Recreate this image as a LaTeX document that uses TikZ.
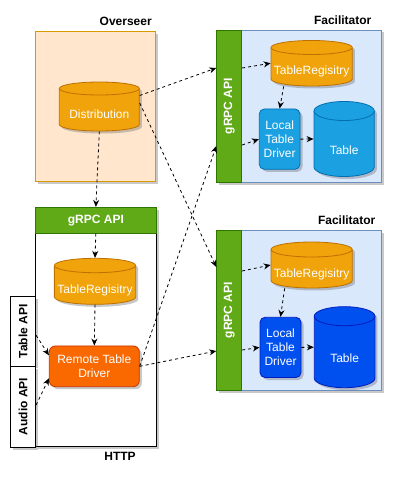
\documentclass[tikz,border=0pt]{standalone}
\usepackage{fontspec}
\setmainfont{Liberation Sans}
\usetikzlibrary{arrows.meta, shadows}

\definecolor{ovfill}{HTML}{FFE6CC}
\definecolor{ovline}{HTML}{D79B00}
\definecolor{orfill}{HTML}{F0A30A}
\definecolor{orline}{HTML}{BD7000}
\definecolor{grfill}{HTML}{60A917}
\definecolor{grline}{HTML}{2D7600}
\definecolor{fcfill}{HTML}{DAE8FC}
\definecolor{fcline}{HTML}{6C8EBF}
\definecolor{skyfill}{HTML}{1BA1E2}
\definecolor{skyline}{HTML}{006EAF}
\definecolor{cobfill}{HTML}{0050EF}
\definecolor{cobline}{HTML}{001DBC}
\definecolor{rtfill}{HTML}{FA6800}
\definecolor{rtline}{HTML}{C73500}

% cilindro: nome, cx, top, larghezza, altezza, ry, colori, testo
\newcommand{\drum}[8]{%
  \pgfmathsetmacro\drumrx{#4/2}%
  \path[#7, dropsh] ({#2-\drumrx},{#3+#6}) -- ({#2-\drumrx},{#3+#5-#6})
    arc[start angle=180, end angle=360, x radius=\drumrx pt, y radius=#6pt]
    -- ({#2+\drumrx},{#3+#6})
    arc[start angle=0, end angle=180, x radius=\drumrx pt, y radius=#6pt] -- cycle;
  \draw[#7] ({#2-\drumrx},{#3+#6})
    arc[start angle=180, end angle=360, x radius=\drumrx pt, y radius=#6pt];
  \node[minimum width=#4pt, minimum height=#5pt, inner sep=0pt] (#1) at (#2,{#3+#5/2}) {};
  \node[intext] at (#2,{#3+#5/2+1.2*#6}) {#8};
}

\begin{document}
\begin{tikzpicture}[x=1pt, y=-1pt, line width=0.8pt,
      every node/.style={font=\fontsize{12}{14}\selectfont},
      dropsh/.style={drop shadow={shadow xshift=2.5pt, shadow yshift=-2.5pt, opacity=0.3, fill=black!70}},
      panel/.style={draw, inner sep=0pt, dropsh},
      bar/.style={draw=grline, fill=grfill, inner sep=0pt},
      intext/.style={text=white, align=center, inner sep=0pt},
      barlbl/.style={text=white, font=\bfseries\fontsize{12}{14}\selectfont},
      title/.style={font=\bfseries\fontsize{12}{14}\selectfont},
      flow/.style={-{Stealth[length=7pt, width=6pt]}, dash pattern=on 3pt off 3pt, line width=0.8pt}]

  \useasboundingbox (0,0) rectangle (405,492);

  % Overseer
  \node[title] (overlbl) at (125.7,21.7) {Overseer};
  \node[panel, fill=ovfill, draw=ovline, minimum width=119.6pt, minimum height=150pt] (over) at (95.5,106.7) {};
  \drum{dist}{99.3}{82}{80}{49}{6.5}{fill=orfill, draw=orline}{Distribution}

  % Facilitator sopra
  \node[title] (faclblA) at (342.7,20.7) {Facilitator};
  \node[panel, fill=fcfill, draw=fcline, minimum width=164.3pt, minimum height=152pt] (facA) at (298.85,106) {};
  \node[bar, minimum width=25pt, minimum height=152pt] (grpcA) at (229.2,106) {};
  \node[barlbl, rotate=90] at (grpcA) {gRPC API};
  \drum{regA}{311.65}{40.5}{81.3}{45.5}{7}{fill=orfill, draw=orline}{TableRegisitry}
  \node[panel, fill=skyfill, draw=skyline, rounded corners=5pt, minimum width=40.7pt, minimum height=60.3pt,
        text=white, align=center] (drvA) at (279.65,139.15) {Local\\Table\\Driver};
  \drum{tabA}{344.15}{101.5}{60.3}{75}{9.5}{fill=skyfill, draw=skyline}{Table}

  % Facilitator sotto
  \node[title] (faclblB) at (346.7,220.7) {Facilitator};
  \node[panel, fill=fcfill, draw=fcline, minimum width=164.8pt, minimum height=160pt] (facB) at (299.1,310) {};
  \node[bar, minimum width=25pt, minimum height=160pt] (grpcB) at (229.2,310) {};
  \node[barlbl, rotate=90] at (grpcB) {gRPC API};
  \drum{regB}{311.65}{242}{81.3}{46}{7.5}{fill=orfill, draw=orline}{TableRegisitry}
  \node[panel, fill=cobfill, draw=cobline, rounded corners=5pt, minimum width=41pt, minimum height=60.2pt,
        text=white, align=center] (drvB) at (280.5,347.4) {Local\\Table\\Driver};
  \drum{tabB}{344.6}{306.7}{60.7}{81}{9.5}{fill=cobfill, draw=cobline}{Table}

  % HTTP
  \node[panel, fill=white, draw=black, minimum width=120.3pt, minimum height=239.4pt] (http) at (95.85,327) {};
  \node[title] (httplbl) at (120,456.7) {HTTP};
  \node[bar, minimum width=120.3pt, minimum height=26pt] (grpcL) at (95.85,220.3) {};
  \node[barlbl] at (grpcL) {gRPC API};
  \drum{regL}{95}{258.3}{81.3}{46}{7.2}{fill=orfill, draw=orline}{TableRegisitry}
  \node[panel, fill=rtfill, draw=rtline, rounded corners=6pt, minimum width=90pt, minimum height=40.7pt,
        text=white, align=center] (remote) at (94.3,366.3) {Remote Table\\Driver};
  \node[panel, fill=white, draw=black, minimum width=25pt, minimum height=69.3pt] (tapi) at (23.2,331.3) {};
  \node[title, rotate=90] at (tapi) {Table API};
  \node[panel, fill=white, draw=black, minimum width=25pt, minimum height=81pt] (aapi) at (23.2,406.5) {};
  \node[title, rotate=90] at (aapi) {Audio API};

  % Connessioni
  \draw[flow] (dist.south) -- (grpcL.north);
  \draw[flow] ([yshift=11pt]dist.east) -- ([yshift=38pt]grpcA.west);
  \draw[flow] ([yshift=3.5pt]dist.east) -- ([yshift=43pt]grpcB.west);
  \draw[flow] (remote.east) -- ([yshift=-40pt]grpcA.west);
  \draw[flow] (remote.east) -- ([yshift=-41pt]grpcB.west);

  \draw[flow] ([yshift=38pt]grpcA.east) -- (regA.west);
  \draw[flow] ([xshift=-28pt]regA.south) -- (drvA.north);
  \draw[flow] ([yshift=-39pt]grpcA.east) -- (drvA.west);
  \draw[flow] (drvA.east) -- (tabA.west);

  \draw[flow] ([yshift=39pt]grpcB.east) -- (regB.west);
  \draw[flow] ([xshift=-27pt]regB.south) -- (drvB.north);
  \draw[flow] ([yshift=-40pt]grpcB.east) -- (drvB.west);
  \draw[flow] (drvB.east) -- (tabB.west);

  \draw[flow] (grpcL.south) -- (regL.north);
  \draw[flow] (regL.south) -- (remote.north);
  \draw[flow] ([yshift=-4pt]tapi.east) -- ([yshift=11pt]remote.west);
  \draw[flow] ([yshift=1.5pt]aapi.east) -- ([yshift=-12pt]remote.west);
\end{tikzpicture}
\end{document}
